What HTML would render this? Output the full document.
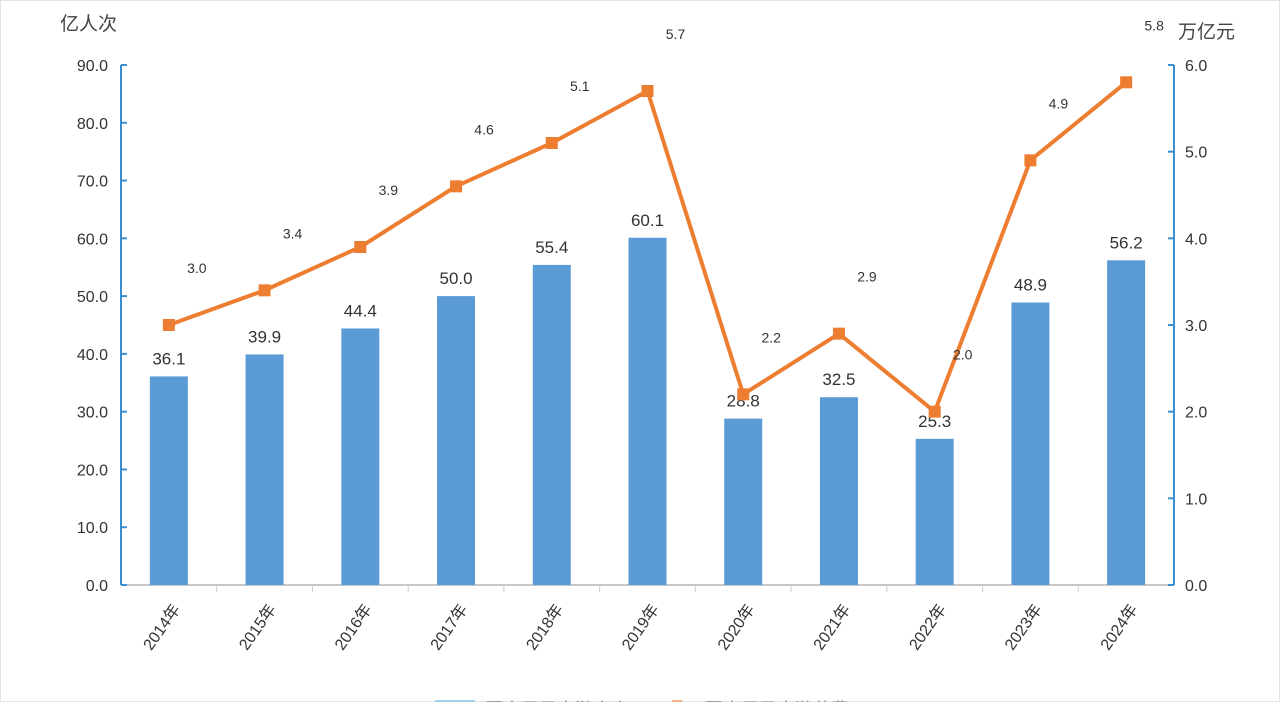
<!DOCTYPE html>
<html><head><meta charset="utf-8">
<style>
html,body{margin:0;padding:0;background:#fff;}
svg{display:block;font-family:"Liberation Sans","Noto Sans CJK SC",sans-serif;}
</style></head>
<body>
<svg id="chart" width="1280" height="702" viewBox="0 0 1280 702">
<rect x="0.5" y="0.5" width="1279" height="701" fill="#fff" stroke="#e3e3e3"/>
<text x="60" y="30" font-size="19" fill="#444">亿人次</text>
<text x="1178" y="38" font-size="19" fill="#444">万亿元</text>
<g id="g"></g>
</svg>
<script>
const categories=["2014年","2015年","2016年","2017年","2018年","2019年","2020年","2021年","2022年","2023年","2024年"];
const trips=[36.1,39.9,44.4,50.0,55.4,60.1,28.8,32.5,25.3,48.9,56.2];
const spending=[3.0,3.4,3.9,4.6,5.1,5.7,2.2,2.9,2.0,4.9,5.8];
const leftTicks=[0,10,20,30,40,50,60,70,80,90];
const rightTicks=[0,1,2,3,4,5,6];
const NS="http://www.w3.org/2000/svg";
const g=document.getElementById('g');
const X0=121,X1=1174,Y0=585,Y1=65;
const band=(X1-X0)/categories.length;
const xc=i=>X0+band*(i+0.5);
const yL=v=>Y0-(v/90)*(Y0-Y1);
const yR=v=>Y0-(v/6)*(Y0-Y1);
function mk(t,a,txt){const e=document.createElementNS(NS,t);for(const k in a)e.setAttribute(k,a[k]);if(txt!==undefined)e.textContent=txt;g.appendChild(e);return e;}
let e=mk('line',{x1:X0,y1:Y1,x2:X0,y2:Y0,stroke:'#3a8fd0','stroke-width':2});


e=mk('line',{x1:X1,y1:Y1,x2:X1,y2:Y0,stroke:'#3a8fd0','stroke-width':2});


e=mk('line',{x1:X0,y1:Y0,x2:X1,y2:Y0,stroke:'#c8c8c8','stroke-width':2});


leftTicks.forEach(v=>{
  mk('line',{x1:X0,y1:yL(v),x2:X0+6,y2:yL(v),stroke:'#3a8fd0','stroke-width':2});
  const t=mk('text',{x:X0-13,y:yL(v)+6,'font-size':16,fill:'#333','text-anchor':'end'},v.toFixed(1));
  
  
});
rightTicks.forEach(v=>{
  mk('line',{x1:X1-6,y1:yR(v),x2:X1,y2:yR(v),stroke:'#3a8fd0','stroke-width':2});
  const t=mk('text',{x:X1+11,y:yR(v)+6,'font-size':16,fill:'#333'},v.toFixed(1));
  
  
});
categories.forEach((c,i)=>{
  const xt=X0+band*i;
  if(i>0) mk('line',{x1:xt,y1:Y0,x2:xt,y2:Y0+7,stroke:'#ccc','stroke-width':1});
  const t=mk('text',{x:xt+band/2+12,y:Y0+24,'font-size':16,fill:'#333','text-anchor':'end',transform:`rotate(-55 ${xt+band/2+12} ${Y0+24})`},c);
  
  
});
trips.forEach((v,i)=>{
  const b=mk('rect',{x:xc(i)-19,y:yL(v),width:38,height:Y0-yL(v),fill:'#5b9bd5'});
  
  
  const t=mk('text',{x:xc(i),y:yL(v)-12,'font-size':17,fill:'#333','text-anchor':'middle'},v.toFixed(1));
  
  
});
const pts=spending.map((v,i)=>xc(i)+','+yR(v)).join(' ');
e=mk('polyline',{points:pts,fill:'none',stroke:'#ed7d31','stroke-width':4,'stroke-linejoin':'round'});


spending.forEach((v,i)=>{
  const m=mk('rect',{x:xc(i)-6,y:yR(v)-6,width:12,height:12,fill:'#ed7d31'});
  
  
  const t=mk('text',{x:xc(i)+28,y:yR(v)-52,'font-size':14,fill:'#333','text-anchor':'middle'},v.toFixed(1));
  
  
});
e=mk('rect',{x:435,y:700,width:40,height:8,fill:'#9fd3ee'});


e=mk('text',{x:485,y:716,'font-size':18,fill:'#888'},'国内居民出游人次');


e=mk('rect',{x:672,y:700,width:10,height:8,fill:'#f4b183'});


e=mk('text',{x:705,y:716,'font-size':18,fill:'#888'},'国内居民出游花费');


</script>
</body></html>
